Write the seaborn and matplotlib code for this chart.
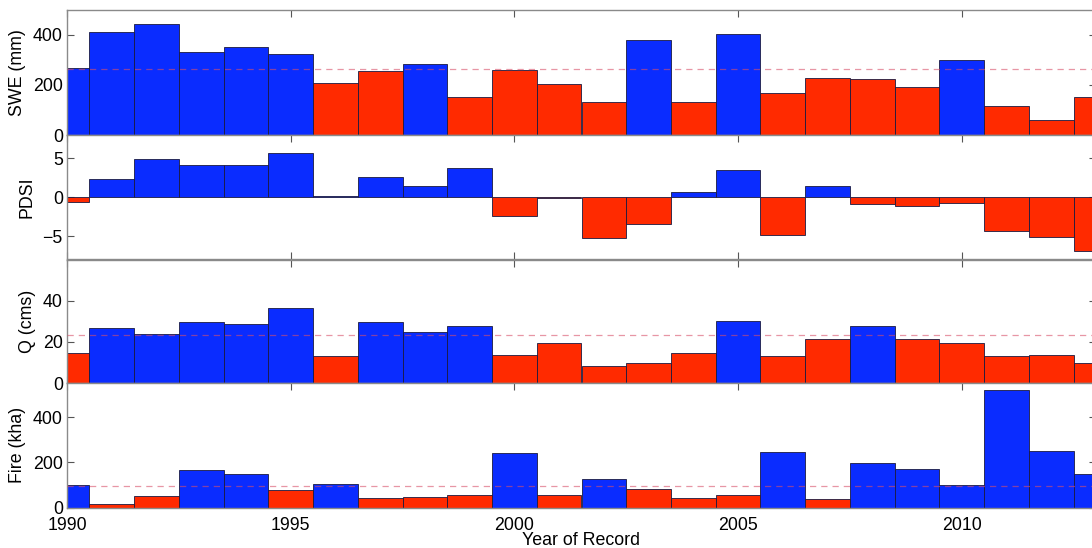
import numpy as np
import pandas as pd
import matplotlib
matplotlib.use("Agg")
import matplotlib.pyplot as plt
import seaborn as sns

years = list(range(1990, 2014))

swe = [268, 409, 443, 329, 349, 324, 208, 253, 284, 152, 257, 205,
       133, 377, 132, 401, 167, 228, 223, 192, 297, 116, 60, 152]
pdsi = [-0.65, 2.37, 4.9, 4.2, 4.2, 5.7, 0.15, 2.6, 1.5, 3.8, -2.4, -0.15,
        -5.3, -3.4, 0.65, 3.5, -4.8, 1.4, -0.85, -1.1, -0.75, -4.4, -5.1, -6.9]
q = [14.5, 26.6, 24.0, 29.7, 28.5, 36.3, 12.9, 29.5, 24.8, 27.7, 13.4, 19.4,
     8.2, 9.7, 14.4, 30.2, 13.2, 21.5, 27.7, 21.6, 19.4, 13.2, 13.7, 9.7]
fire = [101, 16, 50, 168, 149, 76, 105, 42, 48, 56, 240, 57,
        127, 84, 42, 54, 246, 40, 198, 171, 99, 519, 249, 148]

# reference levels (dashed lines); PDSI splits at zero
swe_ref = 261
pdsi_ref = 0
q_ref = 23.3
fire_ref = 97

ylabels = ["SWE (mm)", "PDSI", "Q (cms)", "Fire (kha)"]
ylims = [(0, 500), (-8, 8), (0, 60), (0, 550)]
yticks = [[0, 200, 400], [-5, 0, 5], [0, 20, 40], [0, 200, 400]]
xticks = [1990, 1995, 2000, 2005, 2010]

sns.set_style("ticks")
plt.rcParams["font.family"] = ["Liberation Sans", "DejaVu Sans"]
plt.rcParams["font.size"] = 12.8
plt.rcParams["text.color"] = "black"
plt.rcParams["axes.labelcolor"] = "black"
plt.rcParams["xtick.color"] = "black"
plt.rcParams["ytick.color"] = "black"

BLUE = "#0a2cff"
RED = "#ff2a00"
palette = {"wet": BLUE, "dry": RED}

fig = plt.figure(figsize=(10.92, 5.48), dpi=100)

W, H = 1092.0, 548.0
left = 67 / W
width = (1096 - 67) / W
bounds = [(9.5, 135), (135, 259.5), (259.5, 383), (383, 507.7)]

series = [(swe, swe_ref, True), (pdsi, pdsi_ref, False),
          (q, q_ref, True), (fire, fire_ref, True)]

for i, ((vals, ref, show_ref), (top, bot)) in enumerate(zip(series, bounds)):
    ax = fig.add_axes([left, 1 - bot / H, width, (bot - top) / H])
    df = pd.DataFrame({"year": years, "value": vals})
    df["cls"] = np.where(df["value"] > ref, "wet", "dry")
    sns.barplot(data=df, x="year", y="value", hue="cls", palette=palette,
                native_scale=True, width=1, dodge=False, errorbar=None,
                edgecolor="#1a1a40", linewidth=0.6, legend=False, ax=ax,
                saturation=1)
    if show_ref:
        ax.axhline(ref, color="#d8506a", lw=0.9, ls=(0, (5, 4)),
                   alpha=0.6, zorder=5)
    ax.set_xlim(1990, 2013)
    ax.set_ylim(*ylims[i])
    ax.set_yticks(yticks[i])
    ax.set_xticks(xticks)
    ax.set_ylabel(ylabels[i], fontsize=12.8, labelpad=5)
    ax.tick_params(axis="both", direction="in", length=5, width=0.8,
                   color="#555555", labelcolor="black",
                   top=True, right=True, labelsize=12.8)
    ax.tick_params(axis="y", pad=3)
    ax.tick_params(axis="x", pad=6.5)
    for s in ax.spines.values():
        s.set_color("#8a8a8a")
        s.set_linewidth(1.0)
    if i < 3:
        ax.set_xticklabels([])
        ax.set_xlabel("")
    else:
        ax.set_xticklabels([str(x) for x in xticks])
        ax.set_xlabel("Year of Record", fontsize=12.8, labelpad=-1)

fig.savefig("out.png", dpi=100)
